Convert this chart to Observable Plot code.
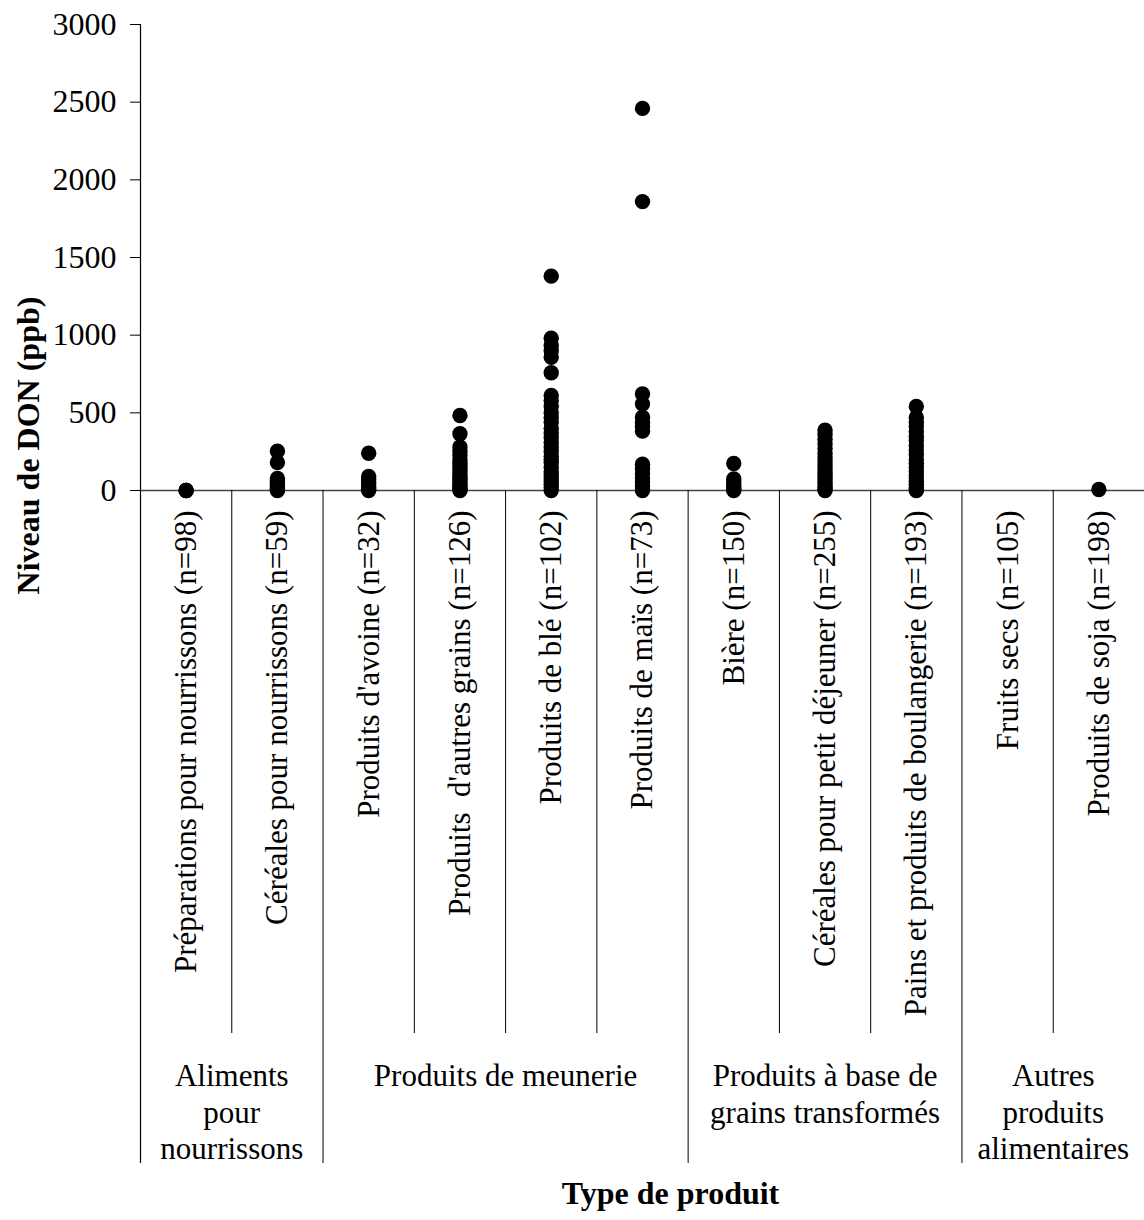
<!DOCTYPE html>
<html>
<head>
<meta charset="utf-8">
<script src="https://cdn.jsdelivr.net/npm/d3@7"></script>
<script src="https://cdn.jsdelivr.net/npm/@observablehq/plot@0.6"></script>
<style>
  html, body { margin: 0; padding: 0; background: #fff; }
</style>
</head>
<body>
<div id="chart"></div>
<script>
// ---- Data ----
const categories = [
  "Préparations pour nourrissons (n=98)",
  "Céréales pour nourrissons (n=59)",
  "Produits d'avoine (n=32)",
  "Produits  d'autres grains (n=126)",
  "Produits de blé (n=102)",
  "Produits de maïs (n=73)",
  "Bière (n=150)",
  "Céréales pour petit déjeuner (n=255)",
  "Pains et produits de boulangerie (n=193)",
  "Fruits secs (n=105)",
  "Produits de soja (n=198)"
];

const prepNourrissons = [0, 0, 0];
const cerealesNourrissons = [253, 180, 77, 62, 48, 35, 22, 12, 5, 0];
const avoine = [240, 90, 70, 52, 36, 20, 8, 0];
const autresGrains = [483, 365, 280, 250, 225, 200, 180, 160, 140, 120, 100, 85, 70, 55, 40, 28, 15, 5, 0];
const ble = [1380, 980, 935, 900, 858, 758, 612, 580, 540, 500, 470, 440, 400, 370, 340, 310, 280, 250, 220, 200, 180, 150, 120, 100, 80, 60, 40, 20, 0];
const mais = [2460, 1860, 622, 558, 472, 440, 410, 382, 169, 140, 110, 80, 55, 30, 10, 0];
const biere = [174, 75, 55, 35, 18, 5, 0];
const cerealesPetitDej = [388, 360, 330, 300, 270, 240, 215, 190, 165, 140, 115, 95, 75, 55, 35, 20, 8, 0];
const pains = [541, 470, 440, 410, 380, 350, 320, 290, 260, 230, 200, 175, 150, 125, 100, 80, 60, 40, 20, 5, 0];
const fruitsSecs = [];
const soja = [6];

const seriesByCategory = [
  prepNourrissons, cerealesNourrissons, avoine, autresGrains, ble, mais,
  biere, cerealesPetitDej, pains, fruitsSecs, soja
];

const groupLabels = [
  "Aliments\npour\nnourrissons",
  "Produits de meunerie",
  "Produits à base de\ngrains transformés",
  "Autres\nproduits\nalimentaires"
];
const groupSizes = [2, 4, 3, 2];

const yTicks = [0, 500, 1000, 1500, 2000, 2500, 3000];
const yTitle = "Niveau de DON (ppb)";
const xTitle = "Type de produit";

// ---- Derived tables ----
const points = seriesByCategory.flatMap((vals, i) => vals.map(v => ({cat: i, v})));

let start = 0;
const groups = groupLabels.map((label, g) => {
  const s = start;
  start += groupSizes[g];
  return {label, start: s, end: start, center: (s + start) / 2};
});
const groupStartSet = new Set(groups.map(g => g.start));
const innerBoundaries = d3.range(1, categories.length).filter(b => !groupStartSet.has(b)); // short separators
const longBoundaries = groups.map(g => g.start).filter(b => b > 0);                        // long separators
const catCenters = categories.map((c, i) => i + 0.5);

const FONT = '"Liberation Serif", "Times New Roman", Times, serif';

const chart = Plot.plot({
  width: 1144,
  height: 1220,
  marginLeft: 140,
  marginRight: 0,
  marginTop: 24,
  marginBottom: 730,
  style: {fontFamily: FONT, fontSize: "31px", color: "#000", background: "#fff", overflow: "visible"},
  x: {domain: [0, categories.length], axis: null},
  y: {domain: [0, 3000], axis: null},
  marks: [
    // x-axis line
    Plot.ruleY([0], {stroke: "#444", strokeWidth: 1.5}),
    // y-axis line extended down to the bottom of the group labels
    Plot.ruleX([0], {y1: 3000, y2: 0, insetBottom: -673, stroke: "#000", strokeWidth: 1.2}),
    // separators between groups (long)
    Plot.ruleX(longBoundaries, {y1: 0, y2: 0, insetBottom: -673, stroke: "#000", strokeWidth: 1}),
    // separators between categories (short)
    Plot.ruleX(innerBoundaries, {y1: 0, y2: 0, insetBottom: -543, stroke: "#000", strokeWidth: 1}),
    // y axis ticks & labels
    Plot.axisY(yTicks, {tickSize: 10, tickPadding: 14, fontSize: 32, tickFormat: d => String(d), label: null, stroke: "#000"}),
    // category labels
    Plot.axisX(catCenters, {
      tickFormat: d => categories[d - 0.5],
      tickRotate: -90,
      tickSize: 0,
      tickPadding: 20,
      fontSize: 31,
      label: null
    }),
    // data points
    Plot.dot(points, {x: d => d.cat + 0.5, y: "v", r: 7.7, fill: "#000", stroke: "none"}),
    // group labels
    Plot.text(groups, {
      x: "center",
      y: 0,
      text: "label",
      lineAnchor: "top",
      dy: 569,
      lineHeight: 1.19,
      fontSize: 31,
      fill: "#000"
    }),
    // axis titles
    Plot.text([xTitle], {
      frameAnchor: "bottom",
      dx: 28,
      dy: 713,
      fontSize: 32,
      fontWeight: "bold",
      fill: "#000"
    }),
    Plot.text([yTitle], {
      frameAnchor: "left",
      textAnchor: "middle",
      rotate: -90,
      dx: -112,
      dy: 188,
      fontSize: 32,
      fontWeight: "bold",
      fill: "#000"
    })
  ]
});

document.getElementById("chart").appendChild(chart);
</script>
</body>
</html>
